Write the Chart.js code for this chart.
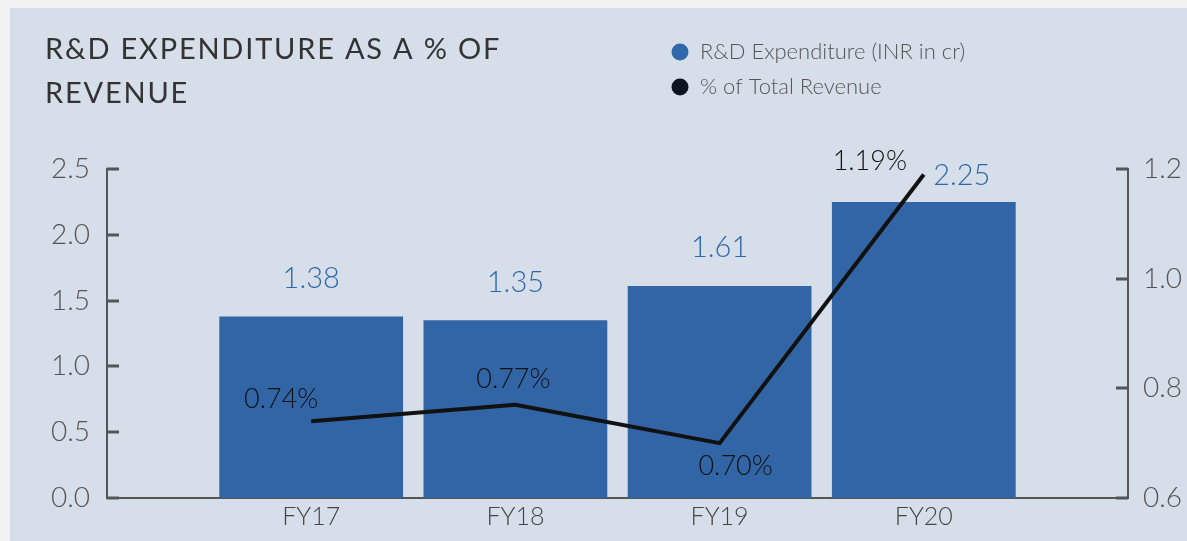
<!DOCTYPE html>
<html>
<head>
<meta charset="utf-8">
<script src="https://cdn.jsdelivr.net/npm/chart.js@4/dist/chart.umd.min.js"></script>
<style>
  html, body { margin: 0; padding: 0; background: #f2f2f2; width: 1187px; height: 541px; overflow: hidden; }
  #wrap { position: absolute; left: 10px; top: 8px; width: 1177px; height: 533px; background: #d6dfe9; }
  canvas { display: block; }
</style>
</head>
<body>
<div id="wrap"><canvas id="c" width="1177" height="533"></canvas></div>
<script>
const categories = ['FY17', 'FY18', 'FY19', 'FY20'];
const rdExpenditure = [1.38, 1.35, 1.61, 2.25];
const revenueShare = [0.74, 0.77, 0.70, 1.19];
const leftTicks = [0.0, 0.5, 1.0, 1.5, 2.0, 2.5];
const rightTicks = [0.6, 0.8, 1.0, 1.2];
const titleLines = ['R&D EXPENDITURE AS A % OF', 'REVENUE'];
const seriesNames = ['R&D Expenditure (INR in cr)', '% of Total Revenue'];
const barLabelPlace = ['up', 'up', 'up', 'upright'];
const lineLabelPlace = ['upleft', 'up', 'downright', 'left'];

const FONT = 'Lato, "Open Sans", sans-serif';
const BAR_COLOR = '#3265a5';
const LINE_COLOR = '#111111';
const AXIS_COLOR = '#555555';

const inwardTicks = {
  id: 'inwardTicks',
  afterDraw(chart) {
    const ctx = chart.ctx;
    ctx.save();
    ctx.strokeStyle = AXIS_COLOR;
    ctx.lineWidth = 3;
    [['y', 1], ['y1', -1]].forEach(([id, dir]) => {
      const s = chart.scales[id];
      const x0 = dir > 0 ? chart.chartArea.left : chart.chartArea.right;
      s.ticks.forEach(t => {
        const py = Math.round(s.getPixelForValue(t.value));
        ctx.beginPath();
        ctx.moveTo(x0, py);
        ctx.lineTo(x0 + dir * 12, py);
        ctx.stroke();
      });
    });
    ctx.restore();
  }
};

const titleSpacing = {
  id: 'titleSpacing',
  beforeDraw(chart) {
    const t = chart.titleBlock;
    if (t && !t._spaced) {
      const orig = t.draw.bind(t);
      t.draw = function () {
        const ctx = chart.ctx;
        ctx.save();
        ctx.letterSpacing = '1.8px';
        orig();
        ctx.restore();
      };
      t._spaced = true;
    }
  }
};

const valueLabels = {
  id: 'valueLabels',
  afterDatasetsDraw(chart) {
    const ctx = chart.ctx;
    ctx.save();
    ctx.textAlign = 'center';
    ctx.textBaseline = 'middle';
    const barMeta = chart.getDatasetMeta(0);
    ctx.font = '300 29px ' + FONT;
    ctx.fillStyle = '#2f68ab';
    barMeta.data.forEach((el, i) => {
      const p = barLabelPlace[i];
      const dx = p === 'upright' ? 38 : 0;
      const dy = p === 'upright' ? -26 : -38;
      ctx.fillText(rdExpenditure[i].toFixed(2), el.x + dx, el.y + dy);
    });
    const lineMeta = chart.getDatasetMeta(1);
    ctx.font = '300 27px ' + FONT;
    ctx.fillStyle = '#111';
    const offs = { upleft: [-30, -22], up: [-2, -25], downright: [16, 23], left: [-54, -13] };
    lineMeta.data.forEach((el, i) => {
      const o = offs[lineLabelPlace[i]];
      ctx.fillText(revenueShare[i].toFixed(2) + '%', el.x + o[0], el.y + o[1]);
    });
    ctx.restore();
  }
};

const sideLegend = {
  id: 'sideLegend',
  afterDraw(chart) {
    const ctx = chart.ctx;
    ctx.save();
    ctx.font = '300 22px ' + FONT;
    ctx.textBaseline = 'middle';
    ctx.textAlign = 'left';
    chart.data.datasets.slice().sort((a, b) => a.legendIndex - b.legendIndex).forEach((ds, i) => {
      const cy = 44 + i * 35;
      ctx.beginPath();
      ctx.fillStyle = ds.legendColor;
      ctx.arc(670, cy, 8.5, 0, Math.PI * 2);
      ctx.fill();
      ctx.fillStyle = '#555';
      ctx.fillText(ds.label, 690, cy);
    });
    ctx.restore();
  }
};

new Chart(document.getElementById('c'), {
  data: {
    datasets: [
      {
        type: 'bar',
        label: seriesNames[0],
        legendIndex: 0,
        legendColor: '#2f68ab',
        data: rdExpenditure.map((v, i) => ({ x: i + 1, y: v })),
        backgroundColor: BAR_COLOR,
        borderWidth: 0,
        barPercentage: 0.9,
        categoryPercentage: 1.0,
        yAxisID: 'y',
        order: 1
      },
      {
        type: 'line',
        label: seriesNames[1],
        legendIndex: 1,
        legendColor: '#0d1420',
        data: revenueShare.map((v, i) => ({ x: i + 1, y: v })),
        borderColor: LINE_COLOR,
        borderWidth: 4,
        pointRadius: 0,
        tension: 0,
        fill: false,
        yAxisID: 'y1',
        order: 0
      }
    ]
  },
  options: {
    responsive: false,
    animation: false,
    layout: { padding: { left: 35, right: 0, top: 0, bottom: 0 } },
    plugins: {
      legend: { display: false },
      tooltip: { enabled: false },
      title: {
        display: true,
        text: titleLines,
        align: 'start',
        color: '#333',
        font: { family: FONT, size: 29, weight: '400', lineHeight: 1.517 },
        padding: { top: 20, bottom: 53 }
      }
    },
    scales: {
      x: {
        type: 'linear',
        offset: false,
        min: 0,
        max: categories.length + 1,
        afterBuildTicks: s => { s.ticks = categories.map((c, i) => ({ value: i + 1 })); },
        ticks: {
          callback: v => categories[v - 1] || '',
          color: '#444',
          font: { family: FONT, size: 25, weight: '300' },
          padding: 4,
          maxRotation: 0,
          autoSkip: false
        },
        grid: { display: false, drawTicks: false },
        border: { display: true, color: AXIS_COLOR, width: 2 },
        afterFit: s => { s.height = 43; }
      },
      y: {
        position: 'left',
        min: 0,
        max: 2.5,
        afterBuildTicks: s => { s.ticks = leftTicks.map(v => ({ value: v })); },
        ticks: {
          callback: v => v.toFixed(1),
          color: '#555',
          font: { family: FONT, size: 28, weight: '300' },
          padding: 17
        },
        grid: { display: false, drawTicks: false },
        border: { display: true, color: AXIS_COLOR, width: 2 },
        afterFit: s => { s.width = 62; }
      },
      y1: {
        position: 'right',
        min: 0.6,
        max: 1.2,
        afterBuildTicks: s => { s.ticks = rightTicks.map(v => ({ value: v })); },
        ticks: {
          callback: v => v.toFixed(1),
          color: '#555',
          font: { family: FONT, size: 28, weight: '300' },
          padding: 15
        },
        grid: { display: false, drawTicks: false },
        border: { display: true, color: AXIS_COLOR, width: 2 },
        afterFit: s => { s.width = 59; }
      }
    }
  },
  plugins: [titleSpacing, inwardTicks, valueLabels, sideLegend]
});
</script>
</body>
</html>
